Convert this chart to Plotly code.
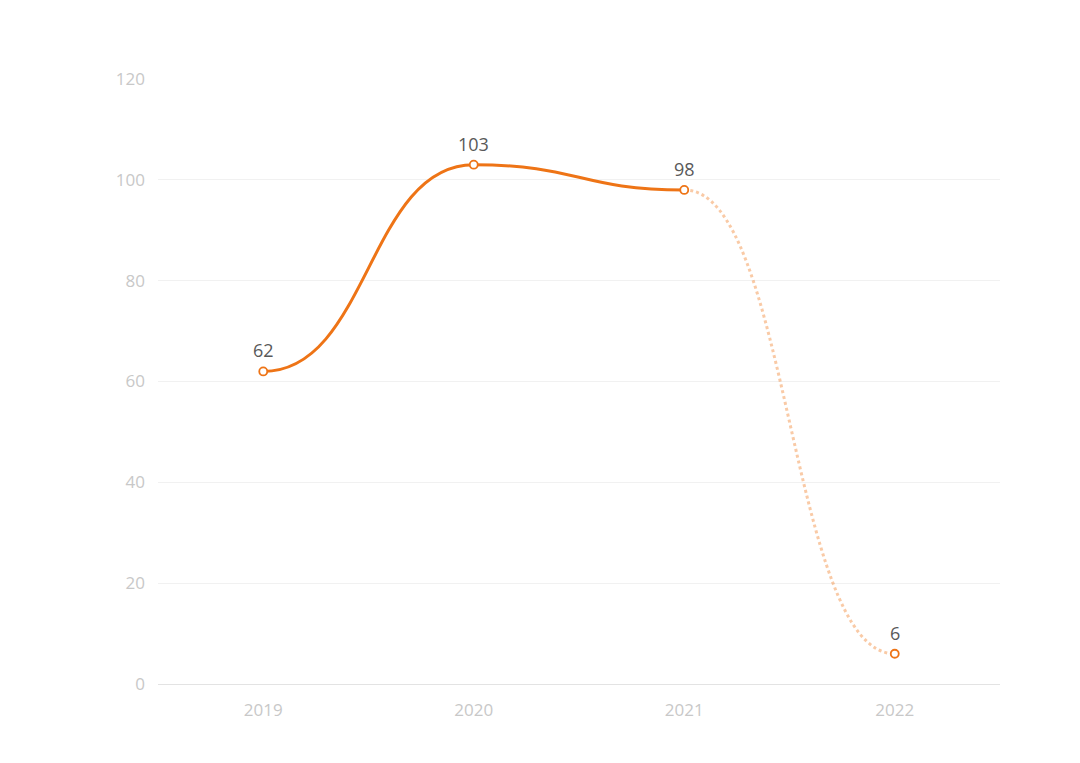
import plotly.graph_objects as go

years = [2019, 2020, 2021, 2022]
values = [62, 103, 98, 6]
solid_upto = 2  # index of last point drawn with the solid line

ORANGE = "#EE7416"
ORANGE_LIGHT = "rgba(238,116,22,0.38)"


def bezier_path(xs, ys):
    # smooth curve with flat tangents at each point
    d = f"M {xs[0]},{ys[0]}"
    for i in range(1, len(xs)):
        h = xs[i] - xs[i - 1]
        d += (f" C {xs[i-1] + h/2},{ys[i-1]} {xs[i] - h/2},{ys[i]}"
              f" {xs[i]},{ys[i]}")
    return d


fig = go.Figure()

shapes = [
    dict(type="path", xref="x", yref="y", layer="between",
         path=bezier_path(years[:solid_upto + 1], values[:solid_upto + 1]),
         line=dict(color=ORANGE, width=3)),
    dict(type="path", xref="x", yref="y", layer="between",
         path=bezier_path(years[solid_upto:], values[solid_upto:]),
         line=dict(color=ORANGE_LIGHT, width=3, dash="dot")),
]

fig.add_trace(go.Scatter(
    x=years, y=values,
    mode="markers",
    marker=dict(size=8, color="#ffffff", line=dict(color=ORANGE, width=1.8)),
    hoverinfo="x+y",
    showlegend=False,
    cliponaxis=False,
))

annotations = [
    dict(x=x, y=v, xref="x", yref="y", text=str(v), showarrow=False,
         yshift=21, font=dict(size=18, color="#595959"))
    for x, v in zip(years, values)
]

# the page body adds an 8px offset, margins are reduced to compensate
fig.update_layout(
    width=1080, height=763,
    paper_bgcolor="#ffffff",
    plot_bgcolor="#ffffff",
    font=dict(family="Open Sans", size=17, color="#c8c8c8"),
    margin=dict(l=150, r=88, t=71, b=87),
    shapes=shapes,
    annotations=annotations,
    xaxis=dict(
        range=[2018.5, 2022.5],
        tickvals=years,
        ticktext=[str(y) for y in years],
        showgrid=False,
        zeroline=False,
        showline=True,
        linecolor="#e3e3e3",
        linewidth=1,
        ticks="",
        ticklabelstandoff=11,
        tickfont=dict(size=17, color="#c8c8c8"),
        fixedrange=True,
    ),
    yaxis=dict(
        range=[0, 120],
        dtick=20,
        showgrid=True,
        gridcolor="#f1f1f1",
        gridwidth=1,
        zeroline=False,
        showline=False,
        ticks="",
        ticklabelstandoff=12,
        tickfont=dict(size=17, color="#c8c8c8"),
        fixedrange=True,
    ),
)

fig.write_html("out.html")
